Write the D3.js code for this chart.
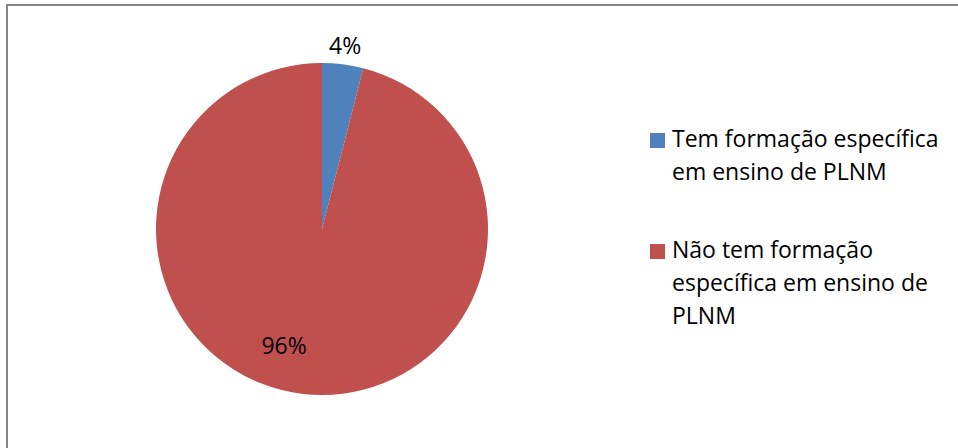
<!DOCTYPE html>
<html>
<head>
<meta charset="utf-8">
<script src="https://cdn.jsdelivr.net/npm/d3@7"></script>
<style>
  html, body { margin: 0; padding: 0; background: #fff; }
  svg { display: block; }
  text { font-family: "Open Sans", "Lato", sans-serif; fill: #000; }
</style>
</head>
<body>
<script>
const categories = ["Tem formação específica em ensino de PLNM", "Não tem formação específica em ensino de PLNM"];
const legendLines = [["Tem formação específica", "em ensino de PLNM"], ["Não tem formação", "específica em ensino de", "PLNM"]];
const values = [4, 96];
const valueLabels = ["4%", "96%"];
const colors = ["#4F81BD", "#C0504D"];

const W = 958, H = 448;
const svg = d3.select("body").append("svg").attr("width", W).attr("height", H);

// chart border
svg.append("rect").attr("x", 7).attr("y", 5).attr("width", W + 20).attr("height", H + 20)
  .attr("fill", "#fff").attr("stroke", "#868686").attr("stroke-width", 2);

const cx = 322, cy = 229, R = 166;
const pie = d3.pie().sort(null).value(d => d);
const arcs = pie(values);
const arc = d3.arc().innerRadius(0).outerRadius(R);

const g = svg.append("g").attr("transform", `translate(${cx},${cy})`);
g.selectAll("path").data(arcs).enter().append("path")
  .attr("d", arc).attr("fill", (d, i) => colors[i]);

// labels
const fs = 23;
arcs.forEach((d, i) => {
  const mid = (d.startAngle + d.endAngle) / 2;
  let r, ang;
  if (d.endAngle - d.startAngle < 0.5) { r = R + 19; ang = mid; }
  else { r = 122; ang = mid + 0.19; }
  const x = r * Math.sin(ang), y = -r * Math.cos(ang);
  g.append("text").attr("x", x).attr("y", y)
    .attr("text-anchor", "middle").attr("dominant-baseline", "central")
    .attr("font-size", fs).text(valueLabels[i]);
});

// legend
const lg = svg.append("g");
const lineH = 33;
const starts = [147, 258];
legendLines.forEach((lines, i) => {
  const y0 = starts[i];
  lg.append("rect").attr("x", 650).attr("y", y0 - 14).attr("width", 15).attr("height", 15).attr("fill", colors[i]);
  const t = lg.append("text").attr("x", 672).attr("y", y0).attr("font-size", fs);
  lines.forEach((ln, j) => {
    t.append("tspan").attr("x", 672).attr("y", y0 + j * lineH).text(ln);
  });
});
</script>
</body>
</html>
